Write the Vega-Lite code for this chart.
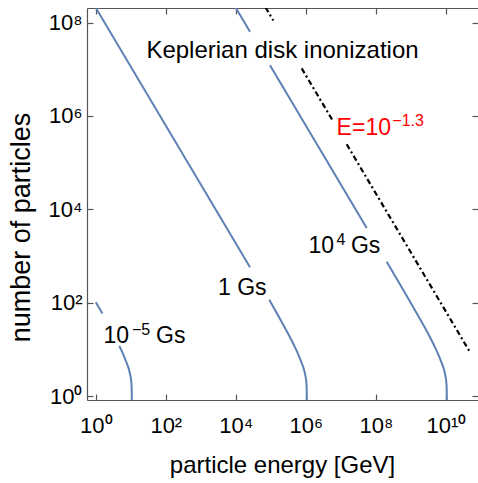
{
  "$schema": "https://vega.github.io/schema/vega-lite/v6.json",
  "width": 391,
  "height": 392,
  "autosize": "none",
  "padding": {"left": 87, "top": 8, "right": 0, "bottom": 83},
  "background": "white",
  "config": {"font": "Liberation Sans", "view": {"stroke": null}, "axis": {"grid": false}},
  "datasets": {
    "curves": [
      {"E": 1, "N": 101.9, "part": "m5a"}, {"E": 1.549, "N": 58.6, "part": "m5a"},
      {"E": 4.688, "N": 11.75, "part": "m5b"}, {"E": 5.012, "N": 10.72, "part": "m5b"}, {"E": 7.079, "N": 5.888, "part": "m5b"}, {"E": 8.913, "N": 3.631, "part": "m5b"}, {"E": 9.772, "N": 2.692, "part": "m5b"}, {"E": 10.351, "N": 1.995, "part": "m5b"}, {"E": 10.593, "N": 1.462, "part": "m5b"}, {"E": 10.666, "N": 1.122, "part": "m5b"}, {"E": 10.715, "N": 0.631, "part": "m5b"},
      {"E": 1, "N": 208000000, "part": "g1a"}, {"E": 25470, "N": 572.8, "part": "g1a"},
      {"E": 90570, "N": 115.3, "part": "g1b"}, {"E": 199500, "N": 39.81, "part": "g1b"}, {"E": 316200, "N": 21.38, "part": "g1b"}, {"E": 501200, "N": 10.72, "part": "g1b"}, {"E": 707900, "N": 5.888, "part": "g1b"}, {"E": 891300, "N": 3.631, "part": "g1b"}, {"E": 977200, "N": 2.692, "part": "g1b"}, {"E": 1035100, "N": 1.995, "part": "g1b"}, {"E": 1059300, "N": 1.462, "part": "g1b"}, {"E": 1066600, "N": 1.122, "part": "g1b"}, {"E": 1071500, "N": 0.631, "part": "g1b"},
      {"E": 10000, "N": 208000000, "part": "g4a"}, {"E": 25470, "N": 63970000, "part": "g4a"},
      {"E": 94840, "N": 12160000, "part": "g4b"}, {"E": 54950000, "N": 3963, "part": "g4b"},
      {"E": 204200000, "N": 756.8, "part": "g4c"}, {"E": 1995000000, "N": 39.81, "part": "g4c"}, {"E": 3162000000, "N": 21.38, "part": "g4c"}, {"E": 5012000000, "N": 10.72, "part": "g4c"}, {"E": 7079000000, "N": 5.888, "part": "g4c"}, {"E": 8913000000, "N": 3.631, "part": "g4c"}, {"E": 9772000000, "N": 2.692, "part": "g4c"}, {"E": 10351000000, "N": 1.995, "part": "g4c"}, {"E": 10593000000, "N": 1.462, "part": "g4c"}, {"E": 10666000000, "N": 1.122, "part": "g4c"}, {"E": 10715000000, "N": 0.631, "part": "g4c"}
    ],
    "threshold": [
      {"E": 70790, "N": 212800000, "part": "a"}, {"E": 117800, "N": 111700000, "part": "a"},
      {"E": 763800, "N": 10500000, "part": "b"}, {"E": 6109000, "N": 756800, "part": "b"},
      {"E": 14760000, "N": 247700, "part": "c"}, {"E": 49090000000, "N": 8.69, "part": "c"}
    ],
    "headline": [
      {"E": 215800, "N": 17220000, "text": "Keplerian disk inonization"}
    ],
    "leftText": [
      {"E": 3097, "N": 145.9, "text": "1 Gs", "grp": "B"},
      {"E": 52.48, "N": 13.67, "text": "Gs", "grp": "B"},
      {"E": 19540000, "N": 1143, "text": "Gs", "grp": "B"}
    ],
    "rightText": [
      {"E": 8.89, "N": 13.67, "text": "10", "grp": "B"},
      {"E": 6397000, "N": 1143, "text": "10", "grp": "B"},
      {"E": 271600000, "N": 391700, "text": "E=10", "grp": "E"}
    ],
    "sups": [
      {"E": 10.8, "N": 20.28, "text": "−5", "grp": "B"},
      {"E": 7534000, "N": 1718, "text": "4", "grp": "B"},
      {"E": 296000000, "N": 609500, "text": "−1.3", "grp": "E"}
    ]
  },
  "layer": [
    {
      "data": {"name": "curves"},
      "mark": {"type": "line", "color": "#5E81B5", "strokeWidth": 2, "interpolate": "monotone", "clip": true},
      "encoding": {
        "x": {"field": "E", "type": "quantitative",
          "scale": {"type": "log", "domain": [0.561, 83180000000], "nice": false},
          "axis": {"orient": "bottom", "values": [1, 100, 10000, 1000000, 100000000, 10000000000],
            "labelExpr": "datum.value < 10 ? '10⁰' : datum.value < 1000 ? '10²' : datum.value < 100000 ? '10⁴' : datum.value < 10000000 ? '10⁶' : datum.value < 1000000000 ? '10⁸' : '10¹⁰'",
            "title": "particle energy [GeV]", "domain": true, "domainColor": "#555", "domainWidth": 1.2,
            "tickSize": -6, "tickColor": "#555", "tickWidth": 1.2, "labelFontSize": 22, "labelColor": "black",
            "labelBaseline": "alphabetic", "labelPadding": 38,
            "labelFlush": false, "labelOverlap": false,
            "titleFontSize": 24, "titleFontWeight": "normal", "titleColor": "black",
            "titleBaseline": "alphabetic", "titleY": 72, "titleX": 195}},
        "y": {"field": "N", "type": "quantitative",
          "scale": {"type": "log", "domain": [0.8211, 206100000], "nice": false},
          "axis": {"orient": "left", "values": [1, 100, 10000, 1000000, 100000000],
            "labelExpr": "datum.value < 10 ? '10⁰' : datum.value < 1000 ? '10²' : datum.value < 100000 ? '10⁴' : datum.value < 10000000 ? '10⁶' : '10⁸'",
            "title": "number of particles", "domain": true, "domainColor": "#555", "domainWidth": 1.2,
            "tickSize": -6, "tickColor": "#555", "tickWidth": 1.2, "labelFontSize": 22, "labelColor": "black", "labelPadding": 11,
            "labelFlush": false, "labelOverlap": false,
            "titleFontSize": 27, "titleFontWeight": "normal", "titleColor": "black",
            "titleBaseline": "alphabetic", "titleX": -58, "titleY": 219}},
        "detail": {"field": "part", "type": "nominal"}
      }
    },
    {
      "data": {"name": "threshold"},
      "mark": {"type": "line", "color": "black", "strokeWidth": 2.2, "strokeDash": [5.5, 3, 2, 3], "clip": true},
      "encoding": {
        "x": {"field": "E", "type": "quantitative",
          "scale": {"type": "log", "domain": [0.561, 83180000000], "nice": false},
          "axis": {"orient": "top", "values": [1, 100, 10000, 1000000, 100000000, 10000000000], "labels": false, "title": null,
            "domain": true, "domainColor": "#555", "domainWidth": 1.2, "tickSize": -6, "tickColor": "#555", "tickWidth": 1.2}},
        "y": {"field": "N", "type": "quantitative",
          "scale": {"type": "log", "domain": [0.8211, 206100000], "nice": false},
          "axis": {"orient": "right", "values": [1, 100, 10000, 1000000, 100000000], "labels": false, "title": null,
            "domain": false, "tickSize": -6, "tickColor": "#555", "tickWidth": 1.2}},
        "detail": {"field": "part", "type": "nominal"}
      }
    },
    {
      "data": {"name": "headline"},
      "mark": {"type": "text", "align": "center", "baseline": "alphabetic", "fontSize": 24, "color": "black"},
      "encoding": {
        "x": {"field": "E", "type": "quantitative", "scale": {"type": "log", "domain": [0.561, 83180000000], "nice": false}, "axis": null},
        "y": {"field": "N", "type": "quantitative", "scale": {"type": "log", "domain": [0.8211, 206100000], "nice": false}, "axis": null},
        "text": {"field": "text"}
      }
    },
    {
      "data": {"name": "leftText"},
      "mark": {"type": "text", "align": "left", "baseline": "alphabetic", "fontSize": 23},
      "encoding": {
        "x": {"field": "E", "type": "quantitative", "scale": {"type": "log", "domain": [0.561, 83180000000], "nice": false}, "axis": null},
        "y": {"field": "N", "type": "quantitative", "scale": {"type": "log", "domain": [0.8211, 206100000], "nice": false}, "axis": null},
        "text": {"field": "text"},
        "color": {"field": "grp", "type": "nominal", "scale": {"domain": ["B", "E"], "range": ["black", "#ff0000"]}, "legend": null}
      }
    },
    {
      "data": {"name": "rightText"},
      "mark": {"type": "text", "align": "right", "baseline": "alphabetic", "fontSize": 23},
      "encoding": {
        "x": {"field": "E", "type": "quantitative", "scale": {"type": "log", "domain": [0.561, 83180000000], "nice": false}, "axis": null},
        "y": {"field": "N", "type": "quantitative", "scale": {"type": "log", "domain": [0.8211, 206100000], "nice": false}, "axis": null},
        "text": {"field": "text"},
        "color": {"field": "grp", "type": "nominal", "scale": {"domain": ["B", "E"], "range": ["black", "#ff0000"]}, "legend": null}
      }
    },
    {
      "data": {"name": "sups"},
      "mark": {"type": "text", "align": "left", "baseline": "alphabetic", "fontSize": 16},
      "encoding": {
        "x": {"field": "E", "type": "quantitative", "scale": {"type": "log", "domain": [0.561, 83180000000], "nice": false}, "axis": null},
        "y": {"field": "N", "type": "quantitative", "scale": {"type": "log", "domain": [0.8211, 206100000], "nice": false}, "axis": null},
        "text": {"field": "text"},
        "color": {"field": "grp", "type": "nominal", "scale": {"domain": ["B", "E"], "range": ["black", "#ff0000"]}, "legend": null}
      }
    }
  ],
  "resolve": {"axis": {"x": "independent", "y": "independent"}}
}
